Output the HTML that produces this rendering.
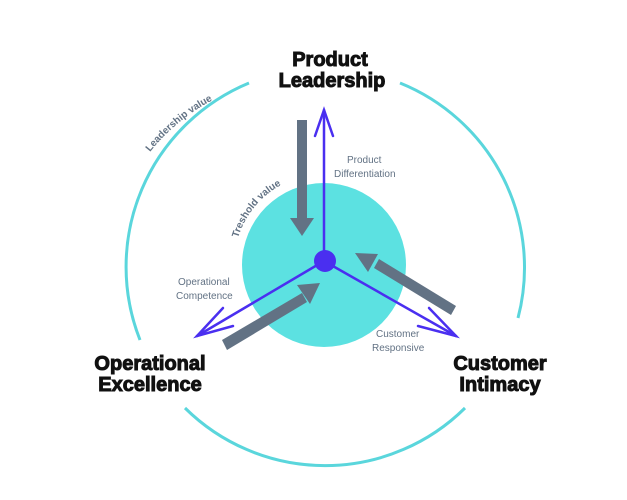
<!DOCTYPE html>
<html><head><style>body{margin:0;background:#fff}svg{display:block}</style></head><body>
<svg width="627" height="500" viewBox="0 0 627 500" xmlns="http://www.w3.org/2000/svg" font-family="Liberation Sans, sans-serif">
<defs>
<path id="lv" d="M150,152 A199,199 0 0 1 250,85"/>
<path id="tv" d="M238,238 A90,90 0 0 1 292,180"/>
</defs>
<g fill="none" stroke="#5ad6dc" stroke-width="3">
<path d="M249,83 A199,199 0 0 0 140,340"/>
<path d="M400,83 A199,199 0 0 1 518,318"/>
<path d="M185,408 A199,199 0 0 0 465,408"/>
</g>
<circle cx="324" cy="265" r="82" fill="#5ce1e1"/>
<g stroke="#4a2ff0" stroke-width="2.5" fill="none" stroke-linecap="round">
<line x1="324" y1="261" x2="324" y2="110"/>
<polyline points="315,136 324,110 333,136"/>
<line x1="324" y1="261" x2="197" y2="336"/>
<polyline points="223,308 197,336 233,326"/>
<line x1="324" y1="261" x2="456" y2="336"/>
<polyline points="418,326 456,336 429,308"/>
</g>
<circle cx="325" cy="261" r="11" fill="#4a2ff0"/>
<g fill="#627284">
<rect x="297" y="120" width="10" height="100"/>
<polygon points="290,218 314,218 302,236"/>
<polygon points="222,340 302,293 307,302 227,350"/>
<polygon points="297,285 320,283 310,304"/>
<polygon points="451,315 374,268 379,259 456,306"/>
<polygon points="355,253 378,254 368,272"/>
</g>
<g font-weight="900" font-size="20" fill="#111" stroke="#111" stroke-width="1" text-anchor="middle">
<text x="330" y="66">Product</text><text x="332" y="87">Leadership</text>
<text x="150" y="370">Operational</text><text x="150" y="391">Excellence</text>
<text x="500" y="370">Customer</text><text x="500" y="391">Intimacy</text>
</g>
<g font-size="10" fill="#627284">
<text x="347" y="163">Product</text><text x="334" y="177">Differentiation</text>
<text x="178" y="285">Operational</text><text x="176" y="299">Competence</text>
<text x="376" y="337">Customer</text><text x="372" y="351">Responsive</text>
</g>
<g font-size="10" font-weight="bold" fill="#627284">
<text><textPath href="#lv">Leadership value</textPath></text>
<text><textPath href="#tv">Treshold value</textPath></text>
</g>
</svg>
</body></html>
